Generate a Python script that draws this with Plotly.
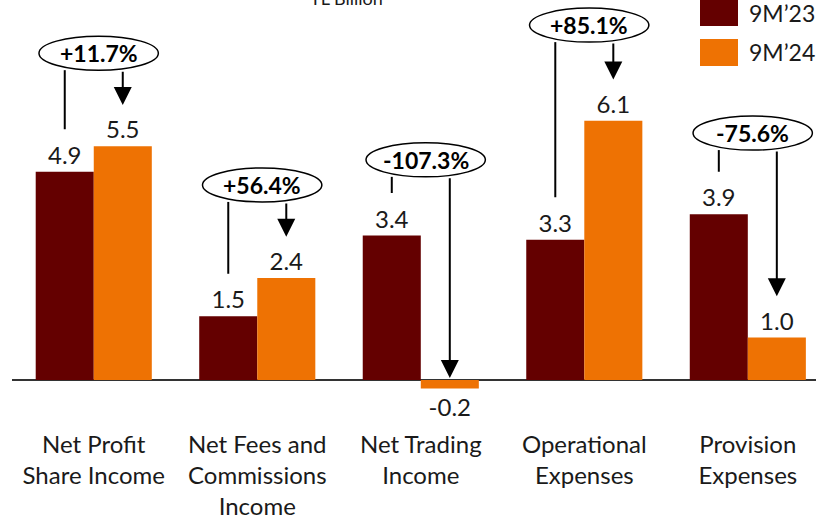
import plotly.graph_objects as go

categories = ["Net Profit<br>Share Income", "Net Fees and<br>Commissions<br>Income",
              "Net Trading<br>Income", "Operational<br>Expenses", "Provision<br>Expenses"]
series_names = ["9M\u201923", "9M\u201924"]
values_23 = [4.9, 1.5, 3.4, 3.3, 3.9]
values_24 = [5.5, 2.4, -0.2, 6.1, 1.0]
changes = ["+11.7%", "+56.4%", "-107.3%", "+85.1%", "-75.6%"]
bubble_y = [7.69, 4.59, 5.18, 8.35, 5.81]

DARK = "#640000"
ORANGE = "#EE7203"
FONT = "Lato"
TXT = "#1a1a1a"

fig = go.Figure()
for name, vals, col in [(series_names[0], values_23, DARK), (series_names[1], values_24, ORANGE)]:
    fig.add_trace(go.Bar(
        x=list(range(len(categories))), y=vals, name=name, marker_color=col,
        marker_line_width=0, texttemplate="%{y:.1f}", textposition="outside",
        textfont=dict(size=24, color=TXT, family=FONT), cliponaxis=False,
        showlegend=False, hoverinfo="skip"))

off = 0.1774
for i, ch in enumerate(changes):
    by = bubble_y[i]
    half_h = 0.4
    fig.add_shape(type="circle", xref="x", yref="y",
                  x0=i + 0.03 - 0.365, x1=i + 0.03 + 0.365,
                  y0=by - half_h, y1=by + half_h,
                  line=dict(color="black", width=1.5), fillcolor="white", layer="above")
    fig.add_annotation(x=i + 0.03, y=by, xref="x", yref="y", text="<b>%s</b>" % ch,
                       showarrow=False, font=dict(size=23, color="black", family=FONT))
    fig.add_shape(type="line", xref="x", yref="y", x0=i - off, x1=i - off,
                  y0=by - half_h, y1=max(values_23[i], 0) + 1.0,
                  line=dict(color="black", width=2))
    tip = values_24[i] + 0.97 if values_24[i] > 0 else 0.05
    fig.add_annotation(x=i + off, y=tip, ax=i + off, ay=by - half_h,
                       xref="x", yref="y", axref="x", ayref="y", text="",
                       showarrow=True, arrowhead=2, arrowsize=1.8, arrowwidth=2,
                       arrowcolor="black", standoff=0, startstandoff=0)

for k, (name, col) in enumerate([(series_names[0], DARK), (series_names[1], ORANGE)]):
    y_top = 1 - (k * 40 - 1) / 428
    fig.add_shape(type="rect", xref="paper", yref="paper",
                  x0=(700 - 12) / 804, x1=(738 - 12) / 804,
                  y0=y_top - 27 / 428, y1=y_top, fillcolor=col, line_width=0)
    fig.add_annotation(xref="paper", yref="paper", x=(747 - 12) / 804,
                       y=y_top - 13.5 / 428, xanchor="left", yanchor="middle",
                       text=name, showarrow=False,
                       font=dict(size=23, color=TXT, family=FONT))

fig.add_annotation(xref="paper", yref="paper", x=(346 - 12) / 804, y=1 - 11 / 428,
                   xanchor="center", yanchor="bottom", text="TL Billion",
                   showarrow=False, font=dict(size=18, color=TXT, family=FONT))

fig.update_layout(
    width=816, height=519,
    margin=dict(l=12, r=0, t=0, b=91, autoexpand=False),
    plot_bgcolor="white", paper_bgcolor="white",
    barmode="group", bargap=0.29, bargroupgap=0,
    font=dict(family=FONT, size=24, color=TXT),
    hovermode=False,
    xaxis=dict(tickmode="array", tickvals=list(range(len(categories))), ticktext=categories,
               range=[-0.5, 4.417], showgrid=False, showline=False, ticks="",
               tickfont=dict(size=24, family=FONT, color=TXT)),
    yaxis=dict(range=[-1.129, 8.941], showgrid=False, showticklabels=False,
               zeroline=True, zerolinecolor="#333333", zerolinewidth=2),
)

fig.write_html("out.html", config={"displayModeBar": False},
               post_script="document.body.style.margin='0';document.body.style.overflow='hidden';")
